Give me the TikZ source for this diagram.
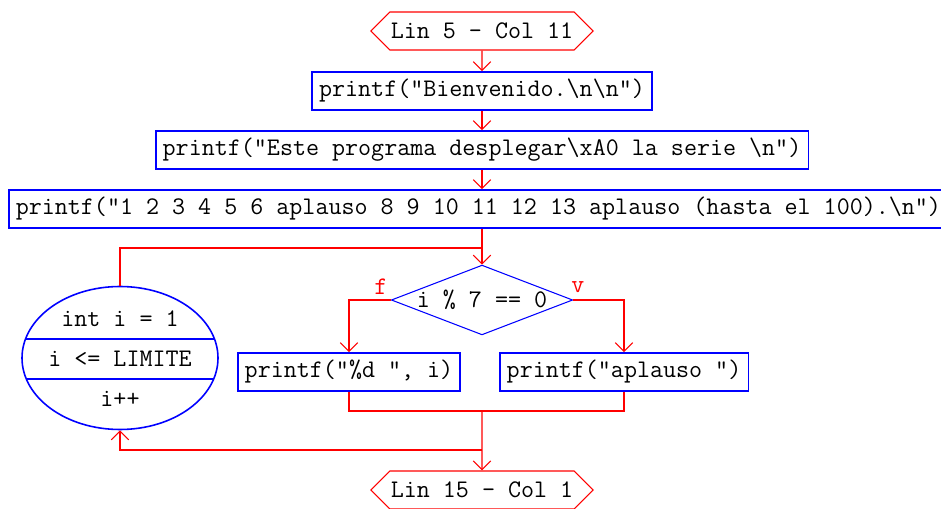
\documentclass[tikz,border=0pt]{standalone}
\usepackage{fontspec}
\usetikzlibrary{arrows.meta,shapes.geometric,shapes.symbols}

\begin{document}
\begin{tikzpicture}[
  font=\ttfamily\fontsize{14.4}{16}\selectfont,
  >={Straight Barb[length=5pt,width=10pt]},
  box/.style={draw=dfblue, line width=0.9pt, minimum height=0.76cm, inner xsep=0.14cm, inner ysep=0pt},
  term/.style={draw=dfred, line width=0.6pt, signal, signal to=west and east, signal pointer angle=90,
    minimum height=0.76cm, inner xsep=0.02cm, inner ysep=0pt},
  cond/.style={draw=dfblue, line width=0.6pt, diamond, aspect=2.6, inner sep=0pt},
  forloop/.style={draw=dfblue, line width=0.9pt, ellipse, minimum width=3.92cm, minimum height=2.86cm, inner sep=0pt},
  flow/.style={draw=dfred, line width=0.6pt, ->},
  line/.style={draw=dfred, line width=0.6pt}
]
% Define colours
\definecolor{dfred}{RGB}{255,0,0}
\definecolor{dfblue}{RGB}{0,0,255}

\useasboundingbox (0,0) rectangle (18.82,10.16);

% Main sequence
\node[term] (start) at (9.64,9.54) {Lin 5 - Col 11};
\node[box] (bienv) at (9.64,8.34) {printf("Bienvenido.\textbackslash n\textbackslash n")};
\node[box] (este) at (9.64,7.16) {printf("Este programa desplegar\textbackslash xA0 la serie \textbackslash n")};
\node[box,anchor=west] (serie) at (0.16,5.98) {printf("1 2 3 4 5 6 aplauso 8 9 10 11 12 13 aplauso (hasta el 100).\textbackslash n")};

% For loop
\node[forloop] (loop) at (2.4,3.0) {};
\draw[dfblue, line width=0.9pt] (0.51,3.38) -- (4.29,3.38);
\draw[dfblue, line width=0.9pt] (0.53,2.58) -- (4.27,2.58);
\node (init) at (2.4,3.78) {int i = 1};
\node (test) at (2.4,2.98) {i <= LIMITE};
\node (incr) at (2.4,2.18) {i++};

% Condition and branches
\node[cond] (mod) at (9.64,4.16) {i \% 7 == 0};
\node[text=dfred] (lblf) at (7.62,4.42) {f};
\node[text=dfred] (lblv) at (11.56,4.42) {v};
\node[box] (izq) at (6.98,2.72) {printf("\%d ", i)};
\node[box] (der) at (12.48,2.72) {printf("aplauso ")};

\node[term] (stop) at (9.64,0.36) {Lin 15 - Col 1};

% Connectors
\coordinate (join) at (9.64,5.2);
\coordinate (merge) at (9.64,1.94);
\coordinate (back) at (9.64,1.16);

\draw[flow] (start) -- (bienv);
\draw[flow] (bienv) -- (este);
\draw[flow] (este) -- (este |- serie.north);
\draw[flow] (este |- serie.south) -- (mod.north);
\draw[line] (loop.north) |- (join);
\draw[flow] (mod.west) -| (izq.north);
\draw[flow] (mod.east) -| (der.north);
\draw[line] (izq.south) |- (merge) -| (der.south);
\draw[flow] (merge) -- (stop);
\draw[flow] (back) -| (loop.south);
\end{tikzpicture}
\end{document}
